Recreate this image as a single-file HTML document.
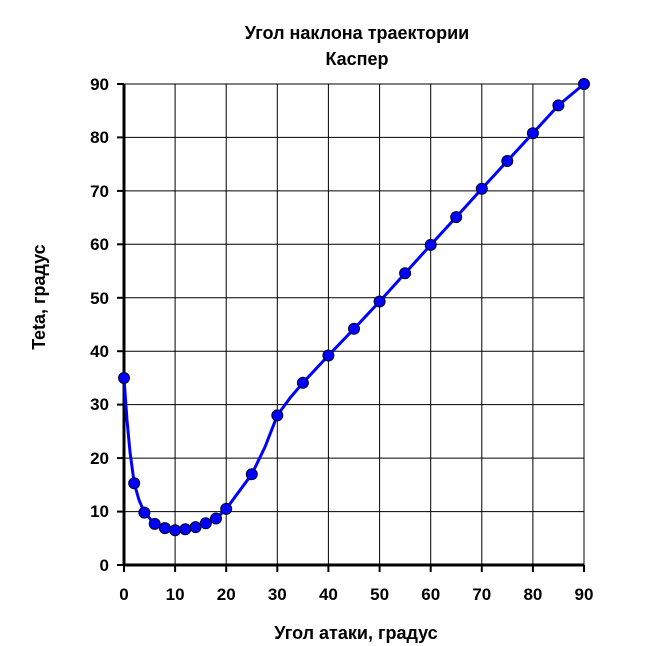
<!DOCTYPE html>
<html><head><meta charset="utf-8"><style>body{margin:0;background:#fff}svg{display:block}</style></head>
<body>
<svg width="650" height="646" xmlns="http://www.w3.org/2000/svg" font-family="Liberation Sans, Arial, sans-serif" font-weight="bold">
<rect width="650" height="646" fill="#fff"/>
<text x="357" y="39" font-size="18" text-anchor="middle">Угол наклона траектории</text>
<text x="357" y="65" font-size="18" text-anchor="middle">Каспер</text>
<g stroke="#000" stroke-width="1">
<line x1="175.1" y1="84" x2="175.1" y2="565"/><line x1="226.2" y1="84" x2="226.2" y2="565"/>
<line x1="277.3" y1="84" x2="277.3" y2="565"/><line x1="328.4" y1="84" x2="328.4" y2="565"/>
<line x1="379.6" y1="84" x2="379.6" y2="565"/><line x1="430.7" y1="84" x2="430.7" y2="565"/>
<line x1="481.8" y1="84" x2="481.8" y2="565"/><line x1="532.9" y1="84" x2="532.9" y2="565"/>
<line x1="584" y1="84" x2="584" y2="565"/>
<line x1="124" y1="84" x2="584" y2="84"/><line x1="124" y1="137.4" x2="584" y2="137.4"/>
<line x1="124" y1="190.9" x2="584" y2="190.9"/><line x1="124" y1="244.3" x2="584" y2="244.3"/>
<line x1="124" y1="297.8" x2="584" y2="297.8"/><line x1="124" y1="351.2" x2="584" y2="351.2"/>
<line x1="124" y1="404.6" x2="584" y2="404.6"/><line x1="124" y1="458.1" x2="584" y2="458.1"/>
<line x1="124" y1="511.6" x2="584" y2="511.6"/>
</g>
<g stroke="#000" stroke-width="2">
<line x1="117" y1="84" x2="124" y2="84"/><line x1="117" y1="137.4" x2="124" y2="137.4"/><line x1="117" y1="190.9" x2="124" y2="190.9"/><line x1="117" y1="244.3" x2="124" y2="244.3"/><line x1="117" y1="297.8" x2="124" y2="297.8"/><line x1="117" y1="351.2" x2="124" y2="351.2"/><line x1="117" y1="404.6" x2="124" y2="404.6"/><line x1="117" y1="458.1" x2="124" y2="458.1"/><line x1="117" y1="511.6" x2="124" y2="511.6"/><line x1="117" y1="565" x2="124" y2="565"/>
<line x1="124" y1="565" x2="124" y2="572"/><line x1="175.1" y1="565" x2="175.1" y2="572"/><line x1="226.2" y1="565" x2="226.2" y2="572"/><line x1="277.3" y1="565" x2="277.3" y2="572"/><line x1="328.4" y1="565" x2="328.4" y2="572"/><line x1="379.6" y1="565" x2="379.6" y2="572"/><line x1="430.7" y1="565" x2="430.7" y2="572"/><line x1="481.8" y1="565" x2="481.8" y2="572"/><line x1="532.9" y1="565" x2="532.9" y2="572"/><line x1="584" y1="565" x2="584" y2="572"/>
</g>
<line x1="124" y1="84" x2="124" y2="566" stroke="#000" stroke-width="3"/>
<line x1="123" y1="565" x2="584" y2="565" stroke="#000" stroke-width="3"/>
<g font-size="17" text-anchor="end">
<text x="109" y="90">90</text><text x="109" y="143">80</text><text x="109" y="197">70</text><text x="109" y="250">60</text><text x="109" y="304">50</text><text x="109" y="357">40</text><text x="109" y="410">30</text><text x="109" y="464">20</text><text x="109" y="517">10</text><text x="109" y="571">0</text>
</g>
<g font-size="17" text-anchor="middle">
<text x="124" y="600">0</text><text x="175.1" y="600">10</text><text x="226.2" y="600">20</text><text x="277.3" y="600">30</text><text x="328.4" y="600">40</text><text x="379.6" y="600">50</text><text x="430.7" y="600">60</text><text x="481.8" y="600">70</text><text x="532.9" y="600">80</text><text x="584" y="600">90</text>
</g>
<text x="356" y="639" font-size="18" text-anchor="middle">Угол атаки, градус</text>
<text transform="translate(45,297) rotate(-90)" font-size="18" text-anchor="middle">Teta, градус</text>
<polyline fill="none" stroke="#0000ff" stroke-width="3" stroke-linejoin="round" points="124,378 127,420 130,452 134.2,483.2 139,500 144.4,512.6 154.7,523.9 164.9,528.1 175.1,530.3 185.3,529.2 195.6,527.1 205.8,523.3 216,518.5 226.2,508.9 251.8,474.2 265,447 277.3,415.4 290,398 302.9,382.8 328.4,355.5 354,328.8 379.6,301.5 405.1,273.2 430.7,244.9 456.2,217.1 481.8,188.8 507.3,161 532.9,133.2 558.4,105.4 584,84"/>
<g fill="#0000ff" stroke="#000022" stroke-width="1">
<circle cx="124" cy="378" r="5.5"/><circle cx="134.2" cy="483.2" r="5.5"/><circle cx="144.4" cy="512.6" r="5.5"/><circle cx="154.7" cy="523.9" r="5.5"/><circle cx="164.9" cy="528.1" r="5.5"/><circle cx="175.1" cy="530.3" r="5.5"/><circle cx="185.3" cy="529.2" r="5.5"/><circle cx="195.6" cy="527.1" r="5.5"/><circle cx="205.8" cy="523.3" r="5.5"/><circle cx="216" cy="518.5" r="5.5"/><circle cx="226.2" cy="508.9" r="5.5"/><circle cx="251.8" cy="474.2" r="5.5"/><circle cx="277.3" cy="415.4" r="5.5"/><circle cx="302.9" cy="382.8" r="5.5"/><circle cx="328.4" cy="355.5" r="5.5"/><circle cx="354" cy="328.8" r="5.5"/><circle cx="379.6" cy="301.5" r="5.5"/><circle cx="405.1" cy="273.2" r="5.5"/><circle cx="430.7" cy="244.9" r="5.5"/><circle cx="456.2" cy="217.1" r="5.5"/><circle cx="481.8" cy="188.8" r="5.5"/><circle cx="507.3" cy="161" r="5.5"/><circle cx="532.9" cy="133.2" r="5.5"/><circle cx="558.4" cy="105.4" r="5.5"/><circle cx="584" cy="84" r="5.5"/>
</g>
</svg>
</body></html>
